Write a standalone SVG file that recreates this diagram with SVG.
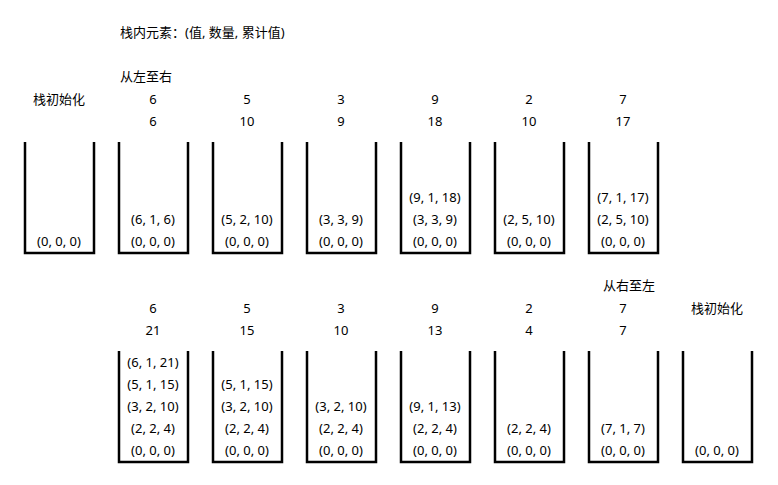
<svg xmlns="http://www.w3.org/2000/svg" width="778" height="485" viewBox="0 0 778 485">
<style>
text{font-family:"Noto Sans","Noto Sans CJK SC",sans-serif;font-size:13px;fill:#000}
.c{text-anchor:middle}
.stk{fill:none;stroke:#000;stroke-width:2.5}
</style>
<rect width="778" height="485" fill="#fff"/>
<text x="120" y="37">栈内元素：(值, 数量, 累计值)</text>
<text x="120" y="81">从左至右</text>
<text x="603" y="290">从右至左</text>
<g id="top-row">
<g id="t0"><text class="c" x="59" y="104">栈初始化</text><path class="stk" d="M25,142V253H94V142"/><text class="c" x="59" y="246">(0, 0, 0)</text></g>
<g id="t1"><text class="c" x="153" y="104">6</text><text class="c" x="153" y="126">6</text><path class="stk" d="M119,142V253H188V142"/><text class="c" x="153" y="224">(6, 1, 6)</text><text class="c" x="153" y="246">(0, 0, 0)</text></g>
<g id="t2"><text class="c" x="247" y="104">5</text><text class="c" x="247" y="126">10</text><path class="stk" d="M213,142V253H282V142"/><text class="c" x="247" y="224">(5, 2, 10)</text><text class="c" x="247" y="246">(0, 0, 0)</text></g>
<g id="t3"><text class="c" x="341" y="104">3</text><text class="c" x="341" y="126">9</text><path class="stk" d="M307,142V253H376V142"/><text class="c" x="341" y="224">(3, 3, 9)</text><text class="c" x="341" y="246">(0, 0, 0)</text></g>
<g id="t4"><text class="c" x="435" y="104">9</text><text class="c" x="435" y="126">18</text><path class="stk" d="M401,142V253H470V142"/><text class="c" x="435" y="202">(9, 1, 18)</text><text class="c" x="435" y="224">(3, 3, 9)</text><text class="c" x="435" y="246">(0, 0, 0)</text></g>
<g id="t5"><text class="c" x="529" y="104">2</text><text class="c" x="529" y="126">10</text><path class="stk" d="M495,142V253H564V142"/><text class="c" x="529" y="224">(2, 5, 10)</text><text class="c" x="529" y="246">(0, 0, 0)</text></g>
<g id="t6"><text class="c" x="623" y="104">7</text><text class="c" x="623" y="126">17</text><path class="stk" d="M589,142V253H658V142"/><text class="c" x="623" y="202">(7, 1, 17)</text><text class="c" x="623" y="224">(2, 5, 10)</text><text class="c" x="623" y="246">(0, 0, 0)</text></g>
</g>
<g id="bottom-row">
<g id="b1"><text class="c" x="153" y="313">6</text><text class="c" x="153" y="335">21</text><path class="stk" d="M119,351V462H188V351"/><text class="c" x="153" y="367">(6, 1, 21)</text><text class="c" x="153" y="389">(5, 1, 15)</text><text class="c" x="153" y="411">(3, 2, 10)</text><text class="c" x="153" y="433">(2, 2, 4)</text><text class="c" x="153" y="455">(0, 0, 0)</text></g>
<g id="b2"><text class="c" x="247" y="313">5</text><text class="c" x="247" y="335">15</text><path class="stk" d="M213,351V462H282V351"/><text class="c" x="247" y="389">(5, 1, 15)</text><text class="c" x="247" y="411">(3, 2, 10)</text><text class="c" x="247" y="433">(2, 2, 4)</text><text class="c" x="247" y="455">(0, 0, 0)</text></g>
<g id="b3"><text class="c" x="341" y="313">3</text><text class="c" x="341" y="335">10</text><path class="stk" d="M307,351V462H376V351"/><text class="c" x="341" y="411">(3, 2, 10)</text><text class="c" x="341" y="433">(2, 2, 4)</text><text class="c" x="341" y="455">(0, 0, 0)</text></g>
<g id="b4"><text class="c" x="435" y="313">9</text><text class="c" x="435" y="335">13</text><path class="stk" d="M401,351V462H470V351"/><text class="c" x="435" y="411">(9, 1, 13)</text><text class="c" x="435" y="433">(2, 2, 4)</text><text class="c" x="435" y="455">(0, 0, 0)</text></g>
<g id="b5"><text class="c" x="529" y="313">2</text><text class="c" x="529" y="335">4</text><path class="stk" d="M495,351V462H564V351"/><text class="c" x="529" y="433">(2, 2, 4)</text><text class="c" x="529" y="455">(0, 0, 0)</text></g>
<g id="b6"><text class="c" x="623" y="313">7</text><text class="c" x="623" y="335">7</text><path class="stk" d="M589,351V462H658V351"/><text class="c" x="623" y="433">(7, 1, 7)</text><text class="c" x="623" y="455">(0, 0, 0)</text></g>
<g id="b7"><text class="c" x="717" y="313">栈初始化</text><path class="stk" d="M683,351V462H752V351"/><text class="c" x="717" y="455">(0, 0, 0)</text></g>
</g>
<g id="connectors"/>
</svg>
